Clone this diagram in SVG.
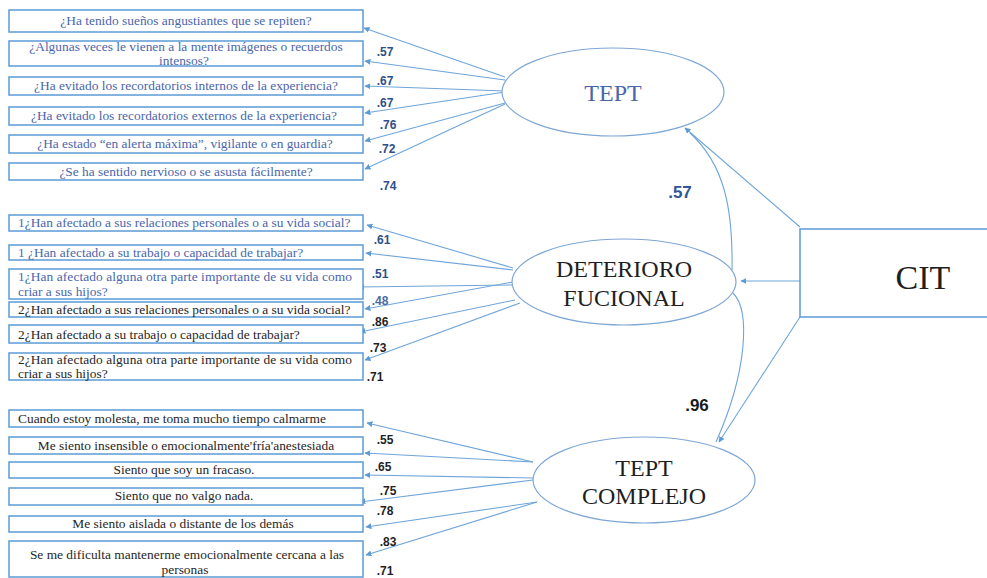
<svg xmlns="http://www.w3.org/2000/svg" width="987" height="578" viewBox="0 0 987 578">
<defs>
<marker id="ah" viewBox="0 0 10 10" refX="9" refY="5" markerWidth="6" markerHeight="6" orient="auto" markerUnits="userSpaceOnUse">
<path d="M0,0 L10,5 L0,10 z" fill="#5b9bd5"/>
</marker>
<style>
.box{fill:#fff;stroke:#5b9bd5;stroke-width:1.5}
.ell{fill:#fff;stroke:#7fa7d4;stroke-width:1.2}
.con{fill:none;stroke:#6fa5da;stroke-width:1.1}
.t{font-family:"Liberation Serif","Times New Roman",serif;font-size:13.4px}
.blue{fill:#4a66ac}
.dark{fill:#262626}
.c{text-anchor:middle}
.lbl{font-family:"Liberation Sans",Arial,sans-serif;font-size:12px;font-weight:bold;text-anchor:middle}
.big{font-family:"Liberation Sans",Arial,sans-serif;font-size:17px;font-weight:bold;text-anchor:middle}
.lat{font-family:"Liberation Serif","Times New Roman",serif;font-size:24px;text-anchor:middle}
</style>
</defs>
<rect width="987" height="578" fill="#fff"/>

<g id="connectors">
<line class="con" x1="505" y1="77" x2="364" y2="28" marker-end="url(#ah)"/>
<line class="con" x1="505" y1="80" x2="365" y2="61" marker-end="url(#ah)"/>
<line class="con" x1="505" y1="91" x2="365" y2="86" marker-end="url(#ah)"/>
<line class="con" x1="505" y1="92" x2="365" y2="113" marker-end="url(#ah)"/>
<line class="con" x1="505" y1="103" x2="365" y2="141" marker-end="url(#ah)"/>
<line class="con" x1="505" y1="104" x2="365" y2="169" marker-end="url(#ah)"/>

<line class="con" x1="513" y1="268" x2="367" y2="225" marker-end="url(#ah)"/>
<line class="con" x1="513" y1="270" x2="366" y2="253" marker-end="url(#ah)"/>
<line class="con" x1="513" y1="285" x2="359" y2="287" marker-end="url(#ah)"/>
<line class="con" x1="513" y1="282" x2="365" y2="309" marker-end="url(#ah)"/>
<line class="con" x1="515" y1="300" x2="360" y2="332" marker-end="url(#ah)"/>
<line class="con" x1="520" y1="303" x2="365" y2="360" marker-end="url(#ah)"/>

<line class="con" x1="533" y1="462" x2="367" y2="423" marker-end="url(#ah)"/>
<line class="con" x1="533" y1="462" x2="365" y2="453" marker-end="url(#ah)"/>
<line class="con" x1="533" y1="478" x2="365" y2="475" marker-end="url(#ah)"/>
<line class="con" x1="533" y1="480" x2="360" y2="502" marker-end="url(#ah)"/>
<line class="con" x1="537" y1="502" x2="366" y2="527" marker-end="url(#ah)"/>
<line class="con" x1="537" y1="502" x2="366" y2="555" marker-end="url(#ah)"/>

<line class="con" x1="800" y1="227" x2="685" y2="128" marker-end="url(#ah)"/>
<line class="con" x1="800" y1="281" x2="741" y2="281" marker-end="url(#ah)"/>
<line class="con" x1="800" y1="317" x2="719" y2="442" marker-end="url(#ah)"/>
<path class="con" d="M732 270 C733 210 725 165 690 133"/>
<path class="con" d="M733 293 C750 310 748 370 716 442"/>
<text class="big" x="680" y="198" fill="#2f5597">.57</text>
<text class="big" x="697" y="411" fill="#1a1a1a">.96</text>

<g class="lbl" fill="#2f4f8a">
<text x="385" y="56">.57</text>
<text x="385" y="85">.67</text>
<text x="385" y="107">.67</text>
<text x="388" y="129">.76</text>
<text x="387" y="153">.72</text>
<text x="388" y="190">.74</text>
<text x="382" y="244">.61</text>
<text x="380" y="278">.51</text>
</g>
<text class="lbl" x="380" y="305" fill="#4a6aa8">.48</text>
<g class="lbl" fill="#1f1f1f">
<text x="380" y="326">.86</text>
<text x="378" y="352">.73</text>
<text x="375" y="381">.71</text>
<text x="385" y="444">.55</text>
<text x="383" y="471">.65</text>
<text x="388" y="495">.75</text>
<text x="385" y="515">.78</text>
<text x="388" y="546">.83</text>
<text x="385" y="575">.71</text>
</g>
</g>

<g id="tept-items">
<rect class="box" x="9" y="10" width="354" height="22"/>
<text class="t blue c" x="186" y="25">¿Ha tenido sueños angustiantes que se repiten?</text>
<rect class="box" x="9" y="41" width="354" height="25"/>
<text class="t blue c" x="186" y="51">¿Algunas veces le vienen a la mente imágenes o recuerdos</text>
<text class="t blue c" x="184" y="65">intensos?</text>
<rect class="box" x="9" y="77" width="354" height="18"/>
<text class="t blue c" x="186" y="90">¿Ha evitado los recordatorios internos de la experiencia?</text>
<rect class="box" x="9" y="107" width="354" height="18"/>
<text class="t blue c" x="184" y="120">¿Ha evitado los recordatorios externos de la experiencia?</text>
<rect class="box" x="9" y="135" width="354" height="18"/>
<text class="t blue c" x="185" y="148">¿Ha estado “en alerta máxima”, vigilante  o en guardia?</text>
<rect class="box" x="9" y="163" width="354" height="17"/>
<text class="t blue c" x="186" y="176">¿Se ha sentido nervioso  o se asusta fácilmente?</text>
</g>

<g id="deterioro-items">
<rect class="box" x="9" y="215" width="354" height="16"/>
<text class="t blue" x="18" y="227">1¿Han afectado a sus relaciones personales o a su vida social?</text>
<rect class="box" x="9" y="245" width="354" height="15"/>
<text class="t blue" x="18" y="257">1 ¿Han afectado a su trabajo o capacidad de trabajar?</text>
<rect class="box" x="9" y="269" width="354" height="30"/>
<text class="t blue" x="18" y="281" textLength="334" lengthAdjust="spacing">1¿Han afectado alguna otra parte importante de su vida como</text>
<text class="t blue" x="18" y="296">criar a sus hijos?</text>
<rect class="box" x="9" y="302" width="354" height="15"/>
<text class="t dark" x="18" y="314">2¿Han afectado a sus relaciones personales o a su vida social?</text>
<rect class="box" x="9" y="325" width="354" height="18"/>
<text class="t dark" x="18" y="339">2¿Han afectado a su trabajo o capacidad de trabajar?</text>
<rect class="box" x="9" y="353" width="354" height="27"/>
<text class="t dark" x="18" y="364" textLength="334" lengthAdjust="spacing">2¿Han afectado alguna otra parte importante de su vida como</text>
<text class="t dark" x="18" y="378">criar a sus hijos?</text>
</g>

<g id="complejo-items">
<rect class="box" x="9" y="410" width="354" height="17"/>
<text class="t dark" x="18" y="423">Cuando estoy molesta, me toma mucho tiempo calmarme</text>
<rect class="box" x="9" y="437" width="354" height="17"/>
<text class="t dark c" x="186" y="450">Me siento insensible  o emocionalmente'fría'anestesiada</text>
<rect class="box" x="9" y="462" width="354" height="16"/>
<text class="t dark c" x="184" y="474">Siento que soy un fracaso.</text>
<rect class="box" x="9" y="488" width="354" height="17"/>
<text class="t dark c" x="184" y="500">Siento que no valgo nada.</text>
<rect class="box" x="9" y="516" width="354" height="16"/>
<text class="t dark c" x="183" y="528">Me siento aislada o distante de los demás</text>
<rect class="box" x="9" y="541" width="354" height="36"/>
<text class="t dark c" x="187" y="559">Se me dificulta  mantenerme emocionalmente cercana a las</text>
<text class="t dark c" x="185" y="574">personas</text>
</g>

<g id="tept">
<ellipse class="ell" cx="613" cy="92" rx="111" ry="44"/>
<text class="lat" x="613" y="101" fill="#4a66ac">TEPT</text>
</g>

<g id="deterioro">
<ellipse class="ell" cx="624" cy="282" rx="112" ry="43"/>
<text class="lat" x="624" y="277" fill="#1f1f1f">DETERIORO</text>
<text class="lat" x="624" y="306" fill="#1f1f1f">FUCIONAL</text>
</g>

<g id="tept-complejo">
<ellipse class="ell" cx="644" cy="480" rx="111" ry="43"/>
<text class="lat" x="644" y="476" fill="#1f1f1f">TEPT</text>
<text class="lat" x="644" y="504" fill="#1f1f1f">COMPLEJO</text>
</g>

<g id="cit">
<rect class="box" x="800" y="229" width="200" height="88"/>
<text x="923" y="289" font-family="'Liberation Serif','Times New Roman',serif" font-size="34" text-anchor="middle" fill="#1f1f1f">CIT</text>
</g>
</svg>
